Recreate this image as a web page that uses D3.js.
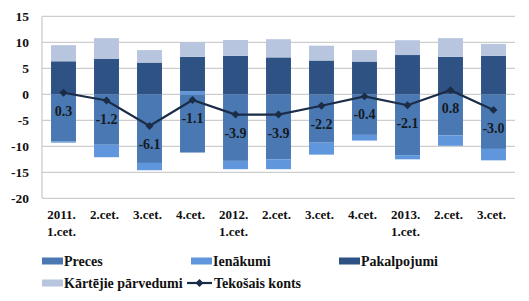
<!DOCTYPE html>
<html>
<head>
<meta charset="utf-8">
<script src="https://cdn.jsdelivr.net/npm/d3@7"></script>
<style>
  body { margin: 0; background: #fff; }
  text { font-family: "Liberation Serif", "Times New Roman", serif; font-weight: bold; fill: #111; }
</style>
</head>
<body>
<div id="chart"></div>
<script>
const width = 529;
const height = 301;

// data
const quarters = [
    ["2011.", "1.cet."], ["2.cet."], ["3.cet."], ["4.cet."],
    ["2012.", "1.cet."], ["2.cet."], ["3.cet."], ["4.cet."],
    ["2013.", "1.cet."], ["2.cet."], ["3.cet."]
];
const preces      = [-9.1, -9.7, -13.2, -11.2, -12.8, -12.5, -9.3, -7.8, -11.7, -7.9, -10.5];
const ienakumi    = [-0.2, -2.4, -1.4, 0.6, -1.6, -1.9, -2.3, -1.1, -0.8, -2.0, -2.2];
const pakalpojumi = [6.35, 6.85, 6.1, 6.6, 7.4, 7.1, 6.5, 6.3, 7.55, 7.2, 7.4];
const kartejie    = [3.1, 3.95, 2.4, 2.8, 3.05, 3.5, 2.85, 2.2, 2.85, 3.6, 2.3];
const tekosais    = [0.3, -1.2, -6.1, -1.1, -3.9, -3.9, -2.2, -0.4, -2.1, 0.8, -3.0];
const yTicks = [15, 10, 5, 0, -5, -10, -15, -20];

const seriesNames = ["Preces", "Ienākumi", "Pakalpojumi", "Kārtējie pārvedumi"];
const colors = ["#4a78b2", "#5f96dc", "#2d5283", "#b8c5df"];
const lineColor = "#1b2c47";

const rows = quarters.map((q, i) => ({
    i: i,
    "Preces": preces[i],
    "Ienākumi": ienakumi[i],
    "Pakalpojumi": pakalpojumi[i],
    "Kārtējie pārvedumi": kartejie[i]
}));

const svg = d3.select("#chart").append("svg")
    .attr("width", width)
    .attr("height", height);

/* Scales */
const x = d3.scaleBand()
    .domain(d3.range(quarters.length))
    .range([42, 515])
    .paddingInner(0.42)
    .paddingOuter(0.21);

const y = d3.scaleLinear()
    .domain([-20, 15])
    .range([198.3, 16.3]);

// gridlines
svg.append("g")
    .selectAll("line")
    .data(yTicks)
    .enter().append("line")
    .attr("x1", 42)
    .attr("x2", 515)
    .attr("y1", d => y(d))
    .attr("y2", d => y(d))
    .style("stroke", "#cdcdcd")
    .style("stroke-width", 1.3);

svg.append("line")
    .attr("x1", 42).attr("x2", 42)
    .attr("y1", y(15)).attr("y2", y(-20))
    .style("stroke", "#cdcdcd")
    .style("stroke-width", 1.3);

// y labels
svg.append("g")
    .selectAll("text")
    .data(yTicks)
    .enter().append("text")
    .attr("x", 29)
    .attr("y", d => y(d) + 5)
    .attr("text-anchor", "end")
    .style("font-size", "13.5px")
    .text(d => d);

/* stacked bars */
const stack = d3.stack()
    .keys(seriesNames)
    .offset(d3.stackOffsetDiverging);
const layers = stack(rows);

svg.append("g")
    .selectAll("g")
    .data(layers)
    .enter().append("g")
    .style("fill", (d, i) => colors[i])
    .selectAll("rect")
    .data(d => d)
    .enter().append("rect")
    .attr("x", d => x(d.data.i))
    .attr("width", x.bandwidth())
    .attr("y", d => y(Math.max(d[0], d[1])))
    .attr("height", d => Math.abs(y(d[0]) - y(d[1])));

/* line */
const line = d3.line()
    .x((d, i) => x(i) + x.bandwidth() / 2)
    .y(d => y(d));

svg.append("path")
    .attr("d", line(tekosais))
    .style("fill", "none")
    .style("stroke", lineColor)
    .style("stroke-width", 2.2);

const diamond = d3.symbol().type(d3.symbolDiamond2).size(40);

svg.append("g")
    .selectAll("path")
    .data(tekosais)
    .enter().append("path")
    .attr("d", diamond)
    .attr("transform", (d, i) => `translate(${x(i) + x.bandwidth() / 2},${y(d)})`)
    .style("fill", lineColor);

svg.append("g")
    .selectAll("text")
    .data(tekosais)
    .enter().append("text")
    .attr("x", (d, i) => x(i) + x.bandwidth() / 2)
    .attr("y", d => y(d) + 23)
    .attr("text-anchor", "middle")
    .style("font-size", "14px")
    .style("fill", "#151a24")
    .text(d => d.toFixed(1));

/* x labels */
const xl = svg.append("g")
    .selectAll("text")
    .data(quarters)
    .enter().append("text")
    .attr("x", (d, i) => x(i) + x.bandwidth() / 2 - 2)
    .attr("y", 219)
    .attr("text-anchor", "middle")
    .style("font-size", "13px");

xl.selectAll("tspan")
    .data(d => d)
    .enter().append("tspan")
    .attr("x", function() { return d3.select(this.parentNode).attr("x"); })
    .attr("dy", (d, i) => i === 0 ? 0 : 17)
    .text(d => d);

/* legend */
const legendItems = [
    {name: "Preces", color: colors[0], x: 42, y: 261},
    {name: "Ienākumi", color: colors[1], x: 191, y: 261},
    {name: "Pakalpojumi", color: colors[2], x: 339, y: 261},
    {name: "Kārtējie pārvedumi", color: colors[3], x: 42, y: 283}
];

const lg = svg.append("g")
    .selectAll("g")
    .data(legendItems)
    .enter().append("g")
    .attr("transform", d => `translate(${d.x},${d.y})`);

lg.append("rect")
    .attr("x", 0)
    .attr("y", -3.5)
    .attr("width", 21)
    .attr("height", 7)
    .style("fill", d => d.color);

lg.append("text")
    .attr("x", 22)
    .attr("y", 5)
    .style("font-size", "14px")
    .text(d => d.name);

// line legend
const ll = svg.append("g")
    .attr("transform", "translate(187,283)");
ll.append("line")
    .attr("x1", 0).attr("x2", 25)
    .style("stroke", lineColor)
    .style("stroke-width", 2.2);
ll.append("path")
    .attr("d", diamond)
    .attr("transform", "translate(12.5,0)")
    .style("fill", lineColor);
ll.append("text")
    .attr("x", 27)
    .attr("y", 5)
    .style("font-size", "14px")
    .text("Tekošais konts");
</script>
</body>
</html>
